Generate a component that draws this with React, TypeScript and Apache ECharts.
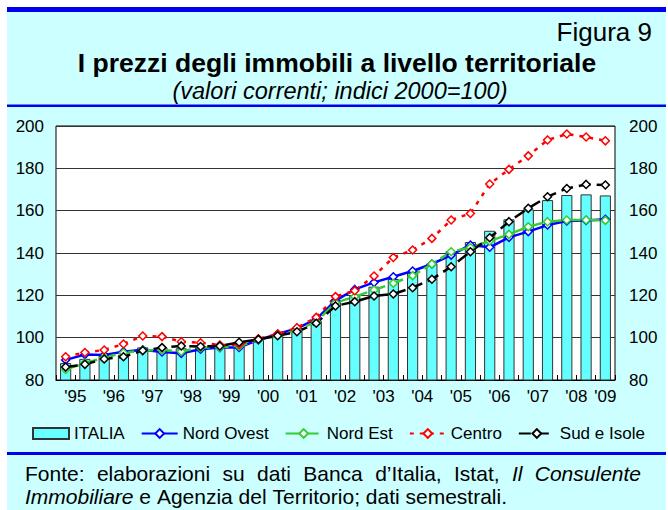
import React, { useEffect, useRef } from "react";
import * as echarts from "echarts";

// Semesters, 1995 H1 to 2009 H1
const semesters = [
  "1995-I", "1995-II", "1996-I", "1996-II", "1997-I", "1997-II", "1998-I", "1998-II",
  "1999-I", "1999-II", "2000-I", "2000-II", "2001-I", "2001-II", "2002-I", "2002-II",
  "2003-I", "2003-II", "2004-I", "2004-II", "2005-I", "2005-II", "2006-I", "2006-II",
  "2007-I", "2007-II", "2008-I", "2008-II", "2009-I",
];
const years = ["1995", "1996", "1997", "1998", "1999", "2000", "2001", "2002", "2003", "2004", "2005", "2006", "2007", "2008", "2009"];
const yearLabels = ["'95", "'96", "'97", "'98", "'99", "'00", "'01", "'02", "'03", "'04", "'05", "'06", "'07", "'08", "'09"];
const yTicks = [80, 100, 120, 140, 160, 180, 200];

const italia = [88, 90, 91.5, 92, 95.4, 95.3, 95, 95.8, 95.7, 96.2, 98.9, 101.3, 103.3, 108, 116.8, 119.8, 124.1, 127.7, 130.6, 135.1, 140.8, 145.2, 150.5, 155.9, 160.6, 165, 167.4, 167.7, 167.2];
const nordOvest = [89.5, 92, 91.8, 93.4, 94.3, 93.2, 92.6, 94.5, 95.3, 95.4, 98.9, 101.7, 104.4, 108.7, 117.5, 122.8, 126.1, 128.8, 131.5, 134.8, 139, 143.8, 142.7, 147.4, 150.1, 153.2, 155.1, 155.4, 155.9];
const nordEst = [85, 88, 90.5, 92.9, 94, 94.2, 93.5, 95.3, 95.5, 96, 99, 101, 103.6, 107.5, 116.5, 119.4, 122.5, 125.7, 129.3, 134.8, 140.6, 142.6, 145.7, 148.8, 152.4, 154.8, 155.6, 155.6, 155.4];
const centro = [91, 93, 94.2, 97, 100.8, 100.5, 98.1, 97.6, 96.5, 96.8, 99.5, 101.7, 104.7, 109.6, 119.4, 122.2, 129.1, 137.9, 141.4, 146.9, 155.6, 158.7, 172.6, 179.5, 185.9, 193.4, 196.2, 194.8, 193];
const sudIsole = [86.1, 87.4, 89.9, 91, 93.9, 95.3, 96.1, 95.8, 96.1, 97.8, 99.2, 100.9, 102.8, 106.8, 115, 117, 119.7, 120.6, 123.6, 127.6, 133.5, 140.6, 147.2, 154.8, 161.1, 166.6, 170.5, 172.4, 172.1];

const footerLine1 = [
  { t: "Fonte:", i: false }, { t: "elaborazioni", i: false }, { t: "su", i: false },
  { t: "dati", i: false }, { t: "Banca", i: false }, { t: "d\u2019Italia,", i: false },
  { t: "Istat,", i: false }, { t: "Il", i: true }, { t: "Consulente", i: true },
];
const footerLine2 = [
  { t: "Immobiliare", i: true }, { t: "e", i: false }, { t: "Agenzia", i: false },
  { t: "del", i: false }, { t: "Territorio;", i: false }, { t: "dati", i: false },
  { t: "semestrali.", i: false },
];

const FONT = "Arial, Liberation Sans, Helvetica, sans-serif";
const BLUE = "#0000ee";
const PANEL = "#ccffff";

export default function App() {
  const ref = useRef<HTMLDivElement>(null);

  useEffect(() => {
    if (!ref.current) return;
    const chart = echarts.init(ref.current, null, { renderer: "svg" });

    // label axis: year label centred on its semesters
    const labelAxis: string[] = new Array(semesters.length * 2 + 1).fill("");
    years.forEach((y, k) => {
      const idx = semesters.map((s, i) => (s.startsWith(y) ? i : -1)).filter((i) => i >= 0);
      if (idx.length) labelAxis[idx[0] + idx[idx.length - 1] + 1] = yearLabels[k];
    });

    // footer word layout
    const ctx = document.createElement("canvas").getContext("2d")!;
    const fs = 21;
    const measure = (t: string, it: boolean) => {
      ctx.font = `${it ? "italic " : ""}${fs}px ${FONT}`;
      return ctx.measureText(t).width;
    };
    const footerEls: any[] = [];
    const layLine = (words: { t: string; i: boolean }[], y: number, justifyTo: number | null) => {
      const left = 25;
      const widths = words.map((w) => measure(w.t, w.i));
      const total = widths.reduce((a, b) => a + b, 0);
      const gap = justifyTo ? (justifyTo - left - total) / (words.length - 1) : measure(" ", false);
      let x = left;
      words.forEach((w, j) => {
        footerEls.push({
          type: "text", x, y, z: 100,
          style: {
            text: w.t, fill: "#000", font: `${w.i ? "italic " : ""}${fs}px ${FONT}`,
            textVerticalAlign: "middle", verticalAlign: "middle",
          },
        });
        x += widths[j] + gap;
      });
    };
    layLine(footerLine1, 473, 641);
    layLine(footerLine2, 496, null);

    const lineSeries = (name: string, data: number[], color: string, type: any) => ({
      name, type: "line", data, z: 3,
      symbol: "diamond", symbolSize: 8, showAllSymbol: true,
      lineStyle: { color, width: 2.5, type },
      itemStyle: { color: "#ffffff", borderColor: color, borderWidth: 1.5 },
    });

    chart.setOption({
      animation: false,
      backgroundColor: "#ffffff",
      textStyle: { fontFamily: FONT },
      graphic: [
        { type: "rect", z: -100, shape: { x: 7, y: 7, width: 659, height: 503 }, style: { fill: PANEL } },
        { type: "rect", z: 100, shape: { x: 7, y: 7, width: 659, height: 5 }, style: { fill: BLUE } },
        { type: "rect", z: 100, shape: { x: 7, y: 104.5, width: 659, height: 2.5 }, style: { fill: BLUE } },
        { type: "rect", z: 100, shape: { x: 7, y: 452, width: 659, height: 3 }, style: { fill: BLUE } },
        {
          type: "text", z: 100, x: 652, y: 32,
          style: { text: "Figura 9", fill: "#000", font: `26px ${FONT}`, textAlign: "right", textVerticalAlign: "middle", align: "right", verticalAlign: "middle" },
        },
        {
          type: "text", z: 100, x: 337, y: 63,
          style: { text: "I prezzi degli immobili a livello territoriale", fill: "#000", font: `bold 26.5px ${FONT}`, textAlign: "center", textVerticalAlign: "middle", align: "center", verticalAlign: "middle" },
        },
        {
          type: "text", z: 100, x: 340, y: 91,
          style: { text: "(valori correnti; indici 2000=100)", fill: "#000", font: `italic 23.5px ${FONT}`, textAlign: "center", textVerticalAlign: "middle", align: "center", verticalAlign: "middle" },
        },
        ...footerEls,
      ],
      grid: {
        left: 56, right: 53, top: 126, bottom: 130,
        show: true, backgroundColor: "#ffffff", borderColor: "#000", borderWidth: 1,
      },
      legend: {
        left: 32, top: 425, padding: 0,
        itemWidth: 36, itemHeight: 11, itemGap: 16,
        textStyle: { fontSize: 17, color: "#000", fontFamily: FONT },
        data: [
          { name: "ITALIA", icon: "rect" },
          { name: "Nord Ovest" }, { name: "Nord Est" }, { name: "Centro" }, { name: "Sud e Isole" },
        ],
      },
      xAxis: [
        {
          type: "category", data: semesters, position: "bottom",
          axisLine: { show: true, lineStyle: { color: "#000", width: 1 } },
          axisTick: { show: true, inside: true, length: 5, interval: 0, lineStyle: { color: "#000" } },
          axisLabel: { show: false },
        },
        {
          type: "category", data: labelAxis, position: "bottom", boundaryGap: false,
          axisLine: { show: false }, axisTick: { show: false },
          axisLabel: {
            show: true, interval: (i: number, v: string) => v !== "",
            fontSize: 17, color: "#000", margin: 8, fontFamily: FONT,
          },
        },
      ],
      yAxis: [
        {
          type: "value", min: yTicks[0], max: yTicks[yTicks.length - 1], interval: 20, position: "left",
          axisLine: { show: false }, axisTick: { show: false },
          axisLabel: { fontSize: 17, color: "#000", margin: 12, fontFamily: FONT },
          splitLine: { show: true, lineStyle: { color: "#333", width: 1 } },
        },
        {
          type: "value", min: yTicks[0], max: yTicks[yTicks.length - 1], interval: 20, position: "right",
          axisLine: { show: false }, axisTick: { show: false },
          axisLabel: { fontSize: 17, color: "#000", margin: 14, fontFamily: FONT },
          splitLine: { show: false },
        },
      ],
      series: [
        {
          name: "ITALIA", type: "bar", data: italia, barWidth: "58%", z: 2,
          itemStyle: { color: "#66ffff", borderColor: "#333", borderWidth: 1 },
        },
        lineSeries("Nord Ovest", nordOvest, "#0000ff", "solid"),
        lineSeries("Nord Est", nordEst, "#33cc33", [14, 5]),
        lineSeries("Centro", centro, "#ff0000", [4, 6]),
        lineSeries("Sud e Isole", sudIsole, "#000000", [12, 6]),
      ],
    });

    return () => chart.dispose();
  }, []);

  return <div ref={ref} style={{ position: "absolute", left: 0, top: 0, width: 668, height: 510 }} />;
}
